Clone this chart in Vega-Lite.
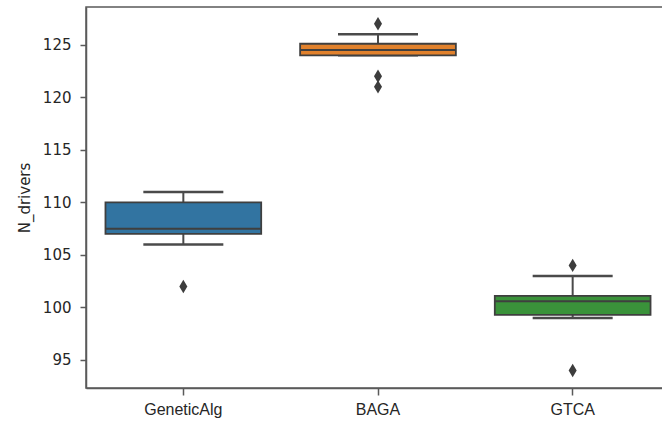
{
  "$schema": "https://vega.github.io/schema/vega-lite/v6.json",
  "width": 584,
  "height": 381,
  "autosize": "none",
  "padding": {"left": 86, "top": 7, "right": 0, "bottom": 35},
  "background": "white",
  "config": {
    "view": {"stroke": "#5a5a5a", "strokeWidth": 1.5},
    "axis": {"domainColor": "#5a5a5a", "domainWidth": 1.5, "tickColor": "#5a5a5a", "tickWidth": 1.5, "grid": false, "labelColor": "#262626", "titleColor": "#262626"}
  },
  "datasets": {
    "boxes": [
      {"algo": "GeneticAlg", "lower": 106, "q1": 107, "median": 107.5, "q3": 110, "upper": 111},
      {"algo": "BAGA", "lower": 124, "q1": 124, "median": 124.5, "q3": 125.1, "upper": 126},
      {"algo": "GTCA", "lower": 99, "q1": 99.3, "median": 100.6, "q3": 101.1, "upper": 103}
    ],
    "outliers": [
      {"algo": "GeneticAlg", "value": 102},
      {"algo": "BAGA", "value": 127},
      {"algo": "BAGA", "value": 122},
      {"algo": "BAGA", "value": 121},
      {"algo": "GTCA", "value": 104},
      {"algo": "GTCA", "value": 94}
    ]
  },
  "encoding": {
    "x": {
      "field": "algo", "type": "nominal", "sort": ["GeneticAlg", "BAGA", "GTCA"],
      "scale": {"paddingInner": 0, "paddingOuter": 0},
      "axis": {"title": null, "labelAngle": 0, "labelFont": "Liberation Sans", "labelFontSize": 16, "tickSize": 7, "labelPadding": 6}
    }
  },
  "layer": [
    {
      "data": {"name": "boxes"},
      "mark": {"type": "rule", "color": "#4a4a4a", "strokeWidth": 2},
      "encoding": {
        "y": {"field": "lower", "type": "quantitative", "scale": {"domain": [92.33, 128.6], "nice": false, "zero": false},
          "axis": {"title": "N_drivers", "values": [95, 100, 105, 110, 115, 120, 125], "labelFont": "DejaVu Sans", "labelFontSize": 15, "titleFont": "DejaVu Sans", "titleFontSize": 15, "titleFontWeight": "normal", "tickSize": 6, "labelPadding": 9, "titlePadding": 10}},
        "y2": {"field": "upper"}
      }
    },
    {
      "data": {"name": "boxes"},
      "mark": {"type": "tick", "color": "#4a4a4a", "thickness": 2.5, "size": 80, "opacity": 1},
      "encoding": {"y": {"field": "lower", "type": "quantitative"}}
    },
    {
      "data": {"name": "boxes"},
      "mark": {"type": "tick", "color": "#4a4a4a", "thickness": 2.5, "size": 80, "opacity": 1},
      "encoding": {"y": {"field": "upper", "type": "quantitative"}}
    },
    {
      "data": {"name": "boxes"},
      "mark": {"type": "bar", "width": {"band": 0.8}, "stroke": "#3f3f3f", "strokeWidth": 1.8},
      "encoding": {
        "y": {"field": "q1", "type": "quantitative"},
        "y2": {"field": "q3"},
        "color": {"field": "algo", "type": "nominal", "sort": ["GeneticAlg", "BAGA", "GTCA"], "scale": {"range": ["#3274a1", "#e1812c", "#3a923a"]}, "legend": null}
      }
    },
    {
      "data": {"name": "boxes"},
      "mark": {"type": "tick", "color": "#3f3f3f", "thickness": 2, "size": 155, "opacity": 1},
      "encoding": {"y": {"field": "median", "type": "quantitative"}}
    },
    {
      "data": {"name": "outliers"},
      "mark": {"type": "point", "shape": "M0,-1L0.6,0L0,1L-0.6,0Z", "filled": true, "color": "#3d3d3d", "size": 180, "opacity": 1},
      "encoding": {"y": {"field": "value", "type": "quantitative"}}
    }
  ]
}
